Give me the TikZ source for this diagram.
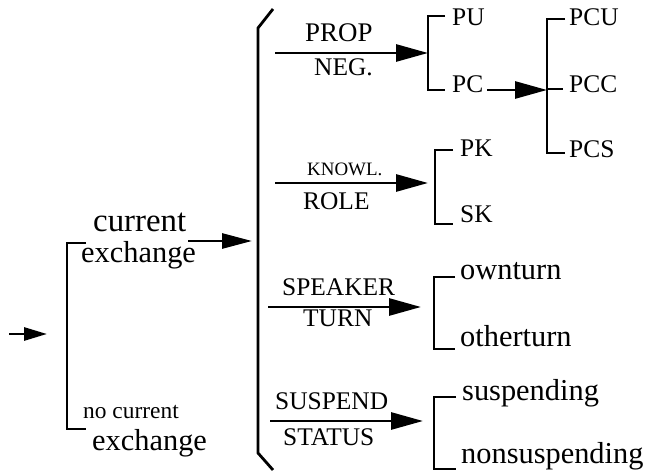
\documentclass[tikz,border=0pt]{standalone}
\usepackage{fontspec}
\setmainfont{Liberation Serif}
\usetikzlibrary{arrows.meta}
\begin{document}
\begin{tikzpicture}[x=1bp,y=-1bp,
  caps/.style={inner sep=0pt, anchor=base west, font=\fontsize{25.5}{30}\selectfont},
  small/.style={inner sep=0pt, anchor=base west, font=\fontsize{19}{23}\selectfont},
  word/.style={inner sep=0pt, anchor=base west, font=\fontsize{30.5}{36}\selectfont},
  smallword/.style={inner sep=0pt, anchor=base west, font=\fontsize{23.5}{28}\selectfont},
  brk/.style={line width=2.8bp, line join=miter},
  arr/.style={line width=2.8bp, -{Triangle[length=32bp,width=17bp]}},
  arrs/.style={line width=2.8bp, -{Triangle[length=23bp,width=13bp]}},
]
\useasboundingbox (0,0) rectangle (659,471);

% entry arrow and the exchange choice
\coordinate (entry) at (9,334);
\coordinate (exbr) at (47,334);
\draw[arrs] (entry) -- (exbr);
\draw[brk] (86,243) -- (67,243) -- (67,429) -- (86,429);
\node[word, font=\fontsize{33}{38}\selectfont] (cur) at (93,232) {current};
\node[word] (exc) at (81,263) {exchange};
\node[smallword] (nocur) at (83,418) {no current};
\node[word] (exc2) at (92,450) {exchange};

% arrow into the big bracket
\coordinate (curout) at (188,241);
\coordinate (bigin) at (252,241);
\draw[arr, -{Triangle[length=30bp,width=15bp]}] (curout) -- (bigin);

% big bracket
\draw[brk] (273,9) -- (258,28) -- (258,453) -- (273,470);

% PROP NEG.
\coordinate (p1) at (275,53);
\coordinate (pbr) at (428,53);
\draw[arr] (p1) -- (pbr);
\node[caps, font=\fontsize{27}{32}\selectfont] (prop) at (305,42) {PROP};
\node[caps] (neg) at (314,76) {NEG.};
\draw[brk] (445,16) -- (428,16) -- (428,90) -- (445,90);
\node[caps] (pu) at (452,26) {PU};
\node[caps] (pc) at (452,93) {PC};
\coordinate (pcout) at (487,90);
\coordinate (pcbr) at (547,90);
\draw[arr] (pcout) -- (pcbr);
\draw[brk] (565,19) -- (547,19) -- (547,153) -- (565,153);
\draw[brk] (547,89) -- (563,89);
\node[caps] (pcu) at (569,26) {PCU};
\node[caps] (pcc) at (569,93) {PCC};
\node[caps] (pcs) at (569,158) {PCS};

% KNOWL. ROLE
\coordinate (k1) at (275,183);
\coordinate (kbr) at (428,183);
\draw[arr] (k1) -- (kbr);
\node[small] (knowl) at (307,176) {KNOWL.};
\node[caps] (role) at (303,210) {ROLE};
\draw[brk] (453,150) -- (435,150) -- (435,224) -- (453,224);
\node[caps] (pk) at (460,157) {PK};
\node[caps] (sk) at (460,223) {SK};

% SPEAKER TURN
\coordinate (s1) at (268,307);
\coordinate (sbr) at (421,307);
\draw[arr] (s1) -- (sbr);
\node[caps] (speaker) at (282,296) {SPEAKER};
\node[caps] (turn) at (303,327) {TURN};
\draw[brk] (455,277) -- (434,277) -- (434,349) -- (455,349);
\node[word] (own) at (460,280) {ownturn};
\node[word] (other) at (460,346) {otherturn};

% SUSPEND STATUS
\coordinate (u1) at (270,421);
\coordinate (ubr) at (423,421);
\draw[arr] (u1) -- (ubr);
\node[caps] (suspend) at (275,409) {SUSPEND};
\node[caps] (status) at (283,445) {STATUS};
\draw[brk] (456,397) -- (434,397) -- (434,469) -- (456,469);
\node[word] (susp) at (462,400) {suspending};
\node[word] (nonsusp) at (461,463) {nonsuspending};
\end{tikzpicture}
\end{document}
